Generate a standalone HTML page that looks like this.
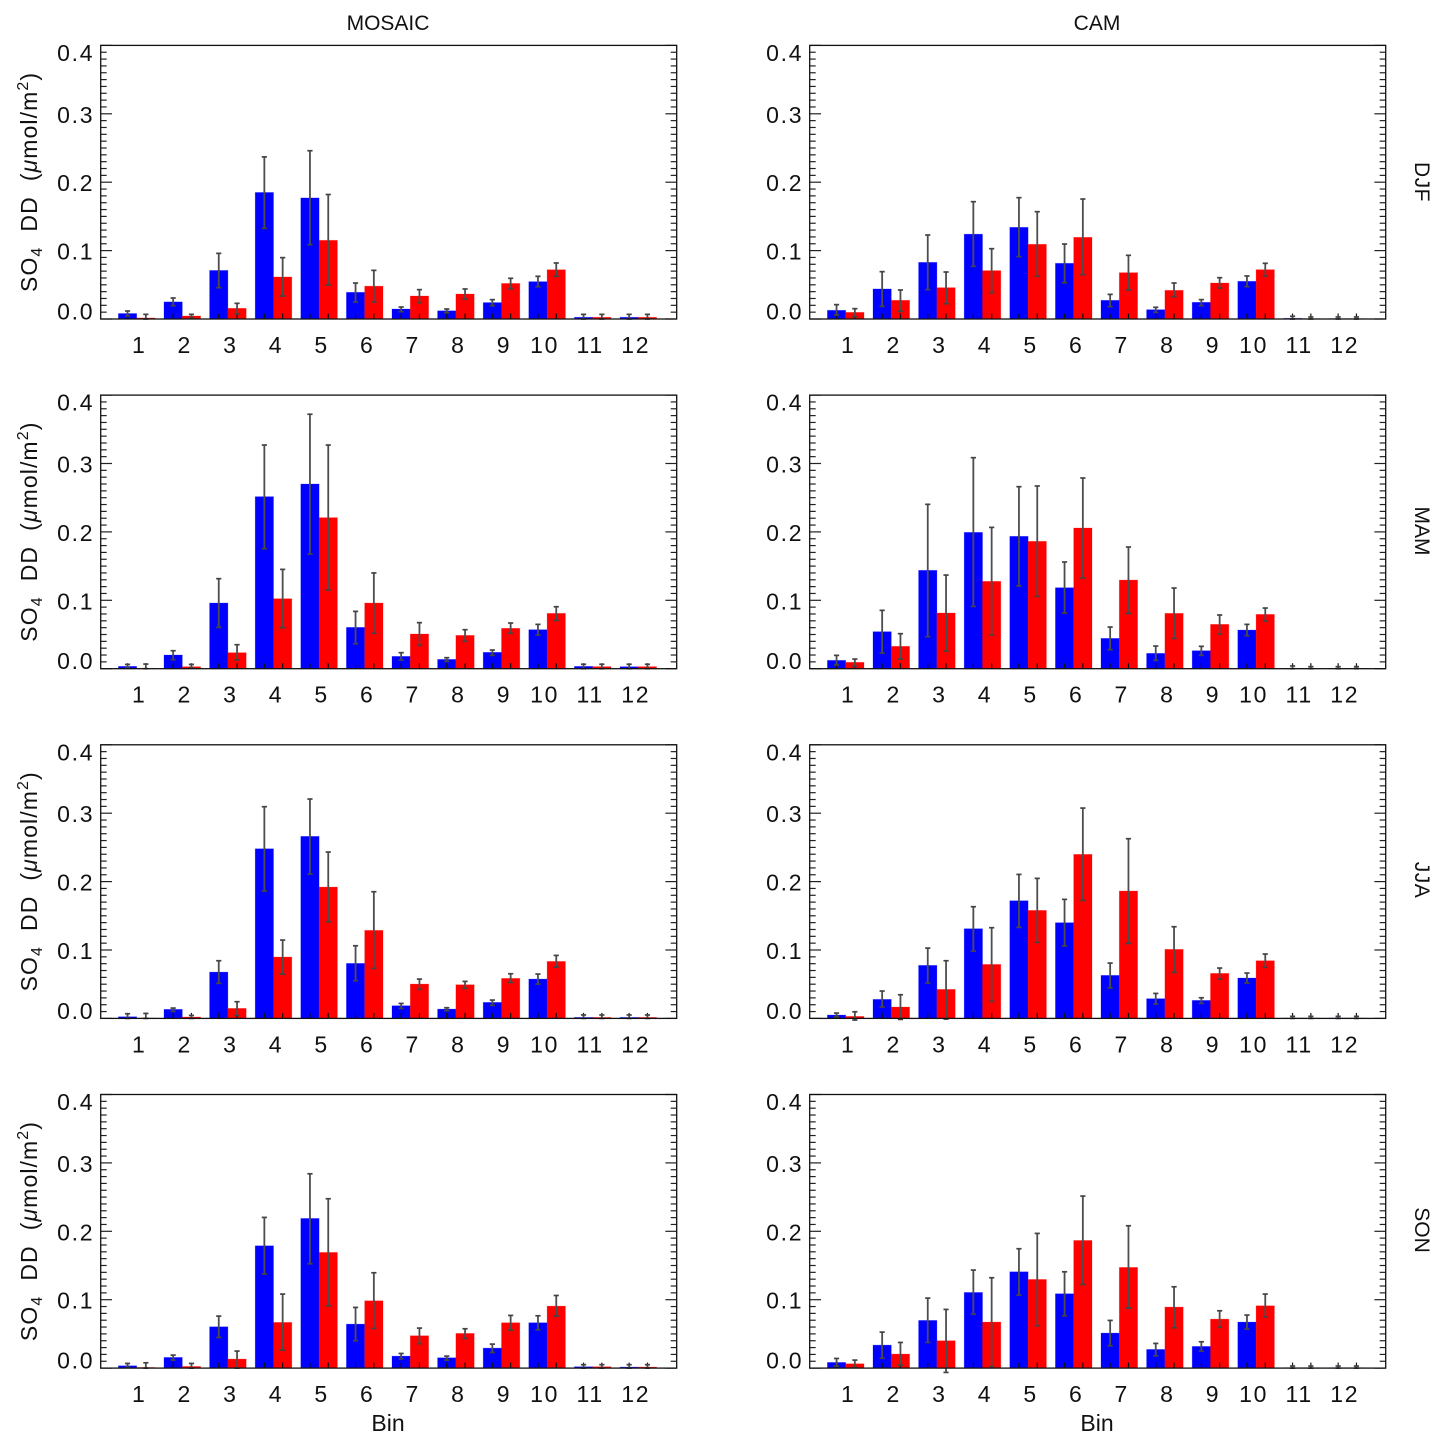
<!DOCTYPE html>
<html lang="en">
<head>
<meta charset="utf-8">
<title>SO4 DD by bin</title>
<style>
html,body{margin:0;padding:0;background:#fff;}
svg{display:block;}
text{font-family:"Liberation Sans",sans-serif;fill:#111;}
.tick{font-size:23px;letter-spacing:1.7px;}
.ttl{font-size:21px;}
.bin{font-size:23px;}
</style>
</head>
<body>
<svg id="chart" xmlns="http://www.w3.org/2000/svg" width="1446" height="1445" viewBox="0 0 1446 1445">
  <rect x="0" y="0" width="1446" height="1445" fill="#fff"/>
  <text class="ttl" x="388" y="30" text-anchor="middle">MOSAIC</text>
  <text class="ttl" x="1097" y="30" text-anchor="middle">CAM</text>
  <text class="bin" x="388" y="1431" text-anchor="middle">Bin</text>
  <text class="bin" x="1097" y="1431" text-anchor="middle">Bin</text>
  <text class="ttl" transform="translate(1415,182) rotate(90)" text-anchor="middle" letter-spacing="0.5">DJF</text>
  <text class="ttl" transform="translate(1415,531) rotate(90)" text-anchor="middle">MAM</text>
  <text class="ttl" transform="translate(1415,880) rotate(90)" text-anchor="middle" letter-spacing="0.5">JJA</text>
  <text class="ttl" transform="translate(1415,1230) rotate(90)" text-anchor="middle">SON</text>
</svg>
<script>
const bins = ["1","2","3","4","5","6","7","8","9","10","11","12"];
const yTickLabels = ["0.0","0.1","0.2","0.3","0.4"];
const yMajorValues = [0,0.1,0.2,0.3,0.4];

const djfMosaicBlue   = [.008,.025,.071,.185,.177,.039,.0146,.012,.024,.0546,.0025,.0025];
const djfMosaicBlueHi = [.0117,.0307,.096,.237,.246,.0526,.0175,.0146,.0283,.0624,.0068,.0068];
const djfMosaicBlueLo = [.0044,.0195,.0458,.1326,.1087,.0249,.0107,.0093,.0195,.0473,0,0];
const djfMosaicRed    = [.0015,.0044,.0156,.0614,.115,.048,.0336,.0365,.052,.072,.0025,.0025];
const djfMosaicRedHi  = [.0068,.0068,.0229,.0897,.182,.0711,.0429,.0439,.0595,.0819,.0068,.0068];
const djfMosaicRedLo  = [0,.002,.0073,.0336,.0497,.0249,.0239,.0292,.0443,.0624,0,0];

const djfCamBlue   = [.0127,.0439,.0828,.124,.134,.0814,.0273,.0136,.0244,.0551,.001,.0005];
const djfCamBlueHi = [.021,.0692,.1228,.1715,.1774,.1096,.036,.0171,.0283,.0629,.004,.003];
const djfCamBlueLo = [.0058,.0185,.0429,.077,.0911,.0531,.018,.0097,.0195,.0473,0,0];
const djfCamRed    = [.0097,.0273,.0458,.0707,.1092,.1194,.0677,.0419,.0526,.0721,.0005,.0005];
const djfCamRedHi  = [.0151,.0424,.0687,.1028,.1569,.1754,.0931,.0526,.0604,.0814,.003,.003];
const djfCamRedLo  = [.0034,.0112,.0224,.0385,.0624,.0648,.0424,.0327,.0453,.0624,0,0];

const mamMosaicBlue   = [.0034,.02,.096,.2515,.27,.0604,.018,.0136,.0239,.057,.0034,.0029];
const mamMosaicBlueHi = [.0063,.0263,.1316,.327,.372,.0838,.0234,.0161,.0273,.0648,.0065,.0065];
const mamMosaicBlueLo = [.0015,.0132,.0604,.1754,.1676,.0365,.0127,.0107,.0195,.0492,0,0];
const mamMosaicRed    = [.0005,.0029,.0234,.1023,.2208,.096,.0507,.0487,.059,.0809,.003,.003];
const mamMosaicRedHi  = [.0068,.0063,.0351,.1452,.327,.14,.0673,.057,.0668,.0906,.0065,.0065];
const mamMosaicRedLo  = [0,.0015,.0127,.06,.115,.0517,.0341,.04,.0517,.0707,0,0];

const mamCamBlue   = [.0122,.0541,.1438,.1993,.1935,.1184,.0443,.0224,.0263,.0565,.0005,.0005];
const mamCamBlueHi = [.0195,.0853,.2403,.3085,.2661,.156,.0609,.0331,.0327,.0648,.004,.003];
const mamCamBlueLo = [.0054,.0229,.0468,.0911,.1209,.0814,.0278,.0122,.0195,.0482,0,0];
const mamCamRed    = [.0093,.0327,.0814,.1277,.1862,.2057,.1296,.0809,.0648,.0794,.0005,.0005];
const mamCamRedHi  = [.0141,.0512,.1369,.2066,.2671,.2788,.1779,.1179,.0785,.0887,.003,.003];
const mamCamRedLo  = [.0034,.0141,.0258,.0492,.1058,.1326,.0809,.0443,.0507,.0697,0,0];

const jjaMosaicBlue   = [.0024,.0132,.0677,.248,.2661,.0804,.0185,.0136,.0234,.0575,.0015,.0015];
const jjaMosaicBlueHi = [.0068,.0151,.0843,.3095,.3207,.1062,.0219,.0156,.0268,.0648,.005,.005];
const jjaMosaicBlueLo = [0,.0102,.0512,.1862,.211,.0551,.0146,.0112,.019,.0502,0,0];
const jjaMosaicRed    = [.0005,.002,.0146,.0897,.192,.1287,.0502,.0492,.0585,.0833,.0015,.0015];
const jjaMosaicRedHi  = [.0073,.0044,.0244,.1145,.2432,.1852,.0575,.0541,.0653,.0921,.005,.005];
const jjaMosaicRedLo  = [0,0,.0044,.0648,.1413,.0731,.0424,.0439,.0526,.075,0,0];

const jjaCamBlue   = [.0049,.0278,.0775,.1311,.172,.1399,.0629,.0288,.0263,.059,.0005,.0005];
const jjaCamBlueHi = [.0078,.04,.1028,.1633,.2105,.174,.0809,.0365,.0302,.0663,.003,.003];
const jjaCamBlueLo = [.0024,.0166,.0517,.0984,.133,.1058,.0448,.021,.0219,.0517,0,0];
const jjaCamRed    = [.0029,.0166,.0424,.0789,.1579,.2398,.1862,.1009,.0658,.0843,.0005,.0005];
const jjaCamRedHi  = [.0097,.0346,.0843,.1326,.2047,.3075,.2627,.134,.0736,.0941,.003,.003];
const jjaCamRedLo  = [-.0024,-.0015,-.001,.0249,.1111,.1725,.1096,.0673,.0575,.0746,0,0];

const sonMosaicBlue   = [.0034,.0156,.0604,.1788,.2188,.0643,.0175,.0151,.0292,.0663,.002,.0015];
const sonMosaicBlueHi = [.0068,.019,.076,.2203,.2841,.0887,.0214,.0175,.0351,.0765,.005,.005];
const sonMosaicBlueLo = [.001,.0117,.0448,.1374,.1525,.04,.0136,.0117,.0229,.056,0,0];
const sonMosaicRed    = [.001,.0024,.0132,.0668,.1691,.0984,.0473,.0507,.0663,.0906,.002,.0015];
const sonMosaicRedHi  = [.0078,.0068,.0249,.1082,.2476,.1394,.0585,.0575,.077,.1062,.005,.005];
const sonMosaicRedLo  = [0,0,0,.0263,.0911,.058,.0356,.0434,.0556,.076,0,0];

const sonCamBlue   = [.0083,.0336,.0697,.1106,.1408,.1087,.0512,.0273,.0317,.0673,.0005,.0005];
const sonCamBlueHi = [.0141,.0526,.1023,.1433,.1745,.1408,.0697,.0361,.0385,.0775,.003,.003];
const sonCamBlueLo = [.0029,.0146,.0375,.0789,.1067,.0765,.0327,.018,.0249,.057,0,0];
const sonCamRed    = [.0063,.0205,.04,.0673,.1296,.1866,.1472,.0892,.0716,.0911,.0005,.0005];
const sonCamRedHi  = [.0117,.0375,.0858,.1321,.1969,.2515,.2081,.1189,.0838,.1082,.003,.003];
const sonCamRedLo  = [.001,.0044,-.0063,.0024,.0619,.1223,.0877,.059,.0595,.075,0,0];

const panels = [
  {name:"djf-mosaic",col:0,row:0,blue:djfMosaicBlue,blueHi:djfMosaicBlueHi,blueLo:djfMosaicBlueLo,red:djfMosaicRed,redHi:djfMosaicRedHi,redLo:djfMosaicRedLo},
  {name:"djf-cam",col:1,row:0,blue:djfCamBlue,blueHi:djfCamBlueHi,blueLo:djfCamBlueLo,red:djfCamRed,redHi:djfCamRedHi,redLo:djfCamRedLo},
  {name:"mam-mosaic",col:0,row:1,blue:mamMosaicBlue,blueHi:mamMosaicBlueHi,blueLo:mamMosaicBlueLo,red:mamMosaicRed,redHi:mamMosaicRedHi,redLo:mamMosaicRedLo},
  {name:"mam-cam",col:1,row:1,blue:mamCamBlue,blueHi:mamCamBlueHi,blueLo:mamCamBlueLo,red:mamCamRed,redHi:mamCamRedHi,redLo:mamCamRedLo},
  {name:"jja-mosaic",col:0,row:2,blue:jjaMosaicBlue,blueHi:jjaMosaicBlueHi,blueLo:jjaMosaicBlueLo,red:jjaMosaicRed,redHi:jjaMosaicRedHi,redLo:jjaMosaicRedLo},
  {name:"jja-cam",col:1,row:2,blue:jjaCamBlue,blueHi:jjaCamBlueHi,blueLo:jjaCamBlueLo,red:jjaCamRed,redHi:jjaCamRedHi,redLo:jjaCamRedLo},
  {name:"son-mosaic",col:0,row:3,blue:sonMosaicBlue,blueHi:sonMosaicBlueHi,blueLo:sonMosaicBlueLo,red:sonMosaicRed,redHi:sonMosaicRedHi,redLo:sonMosaicRedLo},
  {name:"son-cam",col:1,row:3,blue:sonCamBlue,blueHi:sonCamBlueHi,blueLo:sonCamBlueLo,red:sonCamRed,redHi:sonCamRedHi,redLo:sonCamRedLo}
];

const NS = "http://www.w3.org/2000/svg";
const svg = document.getElementById("chart");
const COL_STEP = 709, ROW_STEP = 349.7;
const AXIS_LEFT = 100.7, AXIS_W = 576, AXIS_BOTTOM = 319, PX_PER_UNIT = 684;
const BIN_ONE_X = 136.7, BIN_STEP = 45.6, BAR_W = 18.3;

function xScale(p, bin) { return BIN_ONE_X + BIN_STEP * bin + p.col * COL_STEP; }
function yScale(p, v) { return AXIS_BOTTOM + p.row * ROW_STEP - PX_PER_UNIT * v; }

function shape(parent, tag, attrs) {
  const el = document.createElementNS(NS, tag);
  for (const k in attrs) el.setAttribute(k, attrs[k]);
  parent.appendChild(el);
  return el;
}
function line(parent, x1, y1, x2, y2, color, width) {
  return shape(parent, "line", {x1:x1, y1:y1, x2:x2, y2:y2, stroke:color, "stroke-width":width});
}

function drawBars(p, g, values, color, side, label) {
  values.forEach(function (v, i) {
    const c = xScale(p, i);
    const left = side < 0 ? c - BAR_W : c;
    const top = yScale(p, v);
    const bar = shape(g, "rect", {x:left, y:top, width:BAR_W, height:Math.max(0, yScale(p, 0) - top), fill:color, stroke:color, "stroke-opacity":0.3, "stroke-width":0.8});
    
    
  });
}
function drawErrors(p, g, hi, lo, side, label) {
  hi.forEach(function (h, i) {
    const ex = xScale(p, i) + side * BAR_W / 2;
    const yHi = yScale(p, h), yLo = yScale(p, lo[i]);
    const err = shape(g, "g", {fill:"none"});
    
    
    line(err, ex, yHi, ex, yLo, "#4d4d4d", 1.8);
    line(err, ex - 2.6, yHi, ex + 2.6, yHi, "#444", 1.7);
    line(err, ex - 2.6, yLo, ex + 2.6, yLo, "#444", 1.7);
  });
}

panels.forEach(function (p) {
  const g = shape(svg, "g", {});
  
  
  const left = AXIS_LEFT + p.col * COL_STEP;
  const right = left + AXIS_W;
  const bottom = yScale(p, 0);
  const top = yScale(p, 0.4);

  drawBars(p, g, p.blue, "#0000ff", -1, "blue");
  drawBars(p, g, p.red, "#ff0000", 1, "red");

  const xTicks = shape(g, "g", {});
  
  
  bins.forEach(function (b, i) {
    [-1, 1].forEach(function (s) {
      const tx = xScale(p, i) + s * BAR_W / 2;
      line(xTicks, tx, bottom, tx, bottom - 5.5, "#111", 1.2);
    });
  });

  drawErrors(p, g, p.blueHi, p.blueLo, -1, "blue");
  drawErrors(p, g, p.redHi, p.redLo, 1, "red");

  const yTicks = shape(g, "g", {});
  
  
  for (let k = 1; k < 40; k++) {
    if (k % 10 === 0) continue;
    const ty = yScale(p, k / 100);
    line(yTicks, left, ty, left + 6, ty, "#222", 1.2);
    line(yTicks, right, ty, right - 6, ty, "#222", 1.2);
  }
  yMajorValues.forEach(function (v) {
    const ty = yScale(p, v);
    line(yTicks, left, ty, left + 11.3, ty, "#222", 1.2);
    line(yTicks, right, ty, right - 11.3, ty, "#222", 1.2);
  });

  const frame = shape(g, "rect", {x:left, y:top, width:AXIS_W, height:bottom - top, fill:"none", stroke:"#111", "stroke-width":1.3});
  
  

  yTickLabels.forEach(function (txt, i) {
    const v = yMajorValues[i];
    let base = yScale(p, v) + 9;
    if (v === 0) base = bottom + 0.5;
    if (v === 0.4) base = top + 15.6;
    const t = shape(g, "text", {x:left - 6.5, y:base, "text-anchor":"end", "class":"tick"});
    
    
    t.textContent = txt;
  });

  bins.forEach(function (b, i) {
    const off = b.length === 1 ? 2.5 : -2.5;
    const t = shape(g, "text", {x:xScale(p, i) + off, y:bottom + 34, "text-anchor":"middle", "class":"tick"});
    
    
    t.textContent = b;
  });

  if (p.col === 0) {
    const title = shape(g, "text", {transform:"translate(37," + (292 + p.row * ROW_STEP) + ") rotate(-90)", "font-size":"23px", "letter-spacing":"1.1"});
    
    
    const parts = [
      ["SO", 0, null, null],
      ["4", 5, "16px", null],
      ["\u00a0\u00a0DD\u00a0\u00a0(", -5, null, null],
      ["\u03bc", 0, null, "italic"],
      ["mol/m", 0, null, null],
      ["2", -9, "16px", null],
      [")", 9, null, null]
    ];
    parts.forEach(function (q) {
      const s = shape(title, "tspan", {dy:q[1]});
      if (q[2]) s.setAttribute("font-size", q[2]);
      if (q[3]) s.setAttribute("font-style", q[3]);
      s.textContent = q[0];
    });
  }
});
</script>
</body>
</html>
